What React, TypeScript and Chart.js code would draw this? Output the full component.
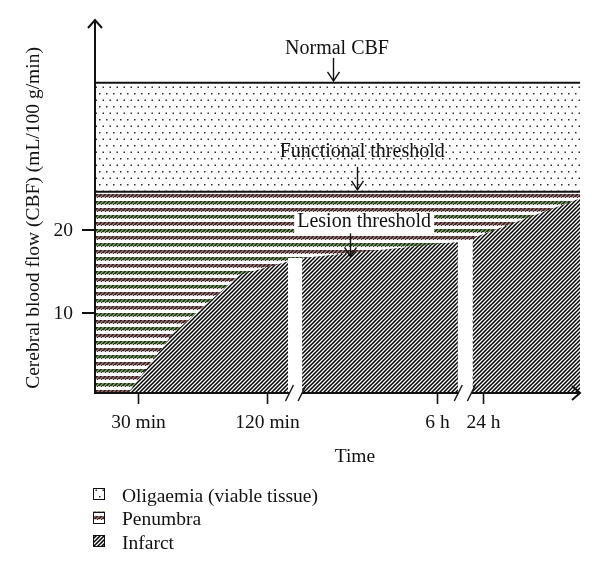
import React, { useEffect, useRef } from 'react';
import { Chart, registerables } from 'chart.js';

Chart.register(...registerables);

// ---- scale extents (time axis is a broken, schematic axis in arbitrary units) ----
const X_MIN = 0;
const X_MAX = 100;
const Y_MIN = 0.5;
const Y_MAX = 45;

// ---- ticks ----
const Y_TICKS = [10, 20];
const X_TICK_LABELS = ['30 min', '120 min', '6 h', '24 h'];
const X_TICK_VALUES = [8.9, 35.5, 70.5, 80.0];
const AXIS_BREAKS = [
  [40.1, 42.7],
  [74.9, 77.6],
];

// ---- thresholds ----
const NORMAL_CBF = 37.5;
const FUNCTIONAL_THRESHOLD = 24.5;
const LESION_THRESHOLD = 16.8;
const SPAN_T = [0, 100];

// ---- infarct growth segments ----
const INFARCT_1_T = [6.2, 16.1, 29.9, 39.8];
const INFARCT_1_V = [0, 7.6, 14.6, 16.2];
const INFARCT_2_T = [42.7, 74.8];
const INFARCT_2_V = [16.6, 18.5];
const INFARCT_3_T = [77.9, 100];
const INFARCT_3_V = [19.0, 23.7];

// ---- white gaps at the axis breaks ----
const GAP_1_T = [39.8, 42.7];
const GAP_1_V = [16.6, 16.6];
const GAP_2_T = [74.8, 77.9];
const GAP_2_V = [18.6, 18.6];

// ---- texts ----
const LEGEND_LABELS = ['Oligaemia (viable tissue)', 'Penumbra', 'Infarct'];
const Y_TITLE = 'Cerebral blood flow (CBF) (mL/100 g/min)';
const X_TITLE = 'Time';
const ANNOTATION_LABELS = ['Normal CBF', 'Functional threshold', 'Lesion threshold'];
const ANNOTATION_ARROW_T = [49.1, 54.0, 52.6];
const ANNOTATION_TEXT_T = [49.9, 55.1, 55.5];
const ANNOTATION_TARGET_V = [NORMAL_CBF, FUNCTIONAL_THRESHOLD, LESION_THRESHOLD];

const FONT = (s: number) => `${s}px "Liberation Serif", "Times New Roman", serif`;
const INK = '#111111';

function makeTile(w: number, h: number, draw: (g: CanvasRenderingContext2D) => void) {
  const c = document.createElement('canvas');
  c.width = w;
  c.height = h;
  const g = c.getContext('2d')!;
  draw(g);
  return c;
}

function makePatterns(ctx: CanvasRenderingContext2D) {
  const dotsTile = makeTile(7, 13, (g) => {
    g.fillStyle = '#ffffff';
    g.fillRect(0, 0, 7, 13);
    g.fillStyle = '#2e2e2e';
    g.fillRect(1, 2, 1.5, 1.5);
    g.fillRect(4.5, 8.5, 1.5, 1.5);
  });
  const stripeTile = makeTile(8, 14, (g) => {
    g.fillStyle = '#ffffff';
    g.fillRect(0, 0, 8, 14);
    const bands = [
      { start: 12, dark: '#3a2626', mid: '#8e6a6a' },
      { start: 5, dark: '#26351f', mid: '#6a8e55' },
    ];
    for (const b of bands) {
      for (let r = 0; r < 4; r++) {
        const row = (b.start + r) % 14;
        for (let x = 0; x < 8; x++) {
          const m = (x + r) % 4;
          const dark = r === 3 ? m === 0 : m === 0 || m === 1;
          g.fillStyle = dark ? b.dark : r === 3 ? '#d8d0d0' : b.mid;
          g.fillRect(x, row, 1, 1);
        }
      }
    }
  });
  const hatchTile = makeTile(4, 4, (g) => {
    g.fillStyle = '#ffffff';
    g.fillRect(0, 0, 4, 4);
    g.strokeStyle = '#000000';
    g.lineWidth = 1.5;
    g.beginPath();
    g.moveTo(0, 4);
    g.lineTo(4, 0);
    g.moveTo(-1, 1);
    g.lineTo(1, -1);
    g.moveTo(3, 5);
    g.lineTo(5, 3);
    g.stroke();
  });
  return {
    dots: ctx.createPattern(dotsTile, 'repeat')!,
    stripes: ctx.createPattern(stripeTile, 'repeat')!,
    hatch: ctx.createPattern(hatchTile, 'repeat')!,
  };
}

const pts = (ts: number[], vs: number[]) => ts.map((t, i) => ({ x: t, y: vs[i] }));

function line(ctx: CanvasRenderingContext2D, x1: number, y1: number, x2: number, y2: number) {
  ctx.beginPath();
  ctx.moveTo(x1, y1);
  ctx.lineTo(x2, y2);
  ctx.stroke();
}

function makeOverlay(patterns: ReturnType<typeof makePatterns>) {
  return {
    id: 'overlay',
    afterDraw(chart: any) {
      const { ctx, chartArea: a } = chart;
      const xs = chart.scales.x;
      const ys = chart.scales.y;
      ctx.save();
      ctx.strokeStyle = INK;
      ctx.fillStyle = INK;
      ctx.lineCap = 'butt';

      // ---- annotations ----
      const gaps = [4, 10, 6];
      ANNOTATION_LABELS.forEach((label, i) => {
        const ax = Math.round(xs.getPixelForValue(ANNOTATION_ARROW_T[i])) + 0.5;
        const tip = ys.getPixelForValue(ANNOTATION_TARGET_V[i]) - (i === 2 ? 0 : 2);
        const top = tip - 23;
        const tx = xs.getPixelForValue(ANNOTATION_TEXT_T[i]);
        const base = top - gaps[i];
        ctx.font = FONT(20);
        if (i === 2) {
          const w = ctx.measureText(label).width;
          ctx.fillStyle = '#ffffff';
          ctx.fillRect(tx - w / 2 - 3, base - 15, w + 6, 22);
          ctx.fillStyle = INK;
        }
        ctx.textAlign = 'center';
        ctx.textBaseline = 'alphabetic';
        ctx.fillText(label, tx, base);
        ctx.lineWidth = 1.4;
        line(ctx, ax, top, ax, tip);
        ctx.beginPath();
        ctx.moveTo(ax - 6, tip - 9);
        ctx.lineTo(ax, tip);
        ctx.lineTo(ax + 6, tip - 9);
        ctx.stroke();
      });

      // ---- y axis ----
      ctx.lineWidth = 2;
      line(ctx, a.left, a.bottom + 1, a.left, a.top);
      ctx.beginPath();
      ctx.moveTo(a.left - 7, a.top + 8);
      ctx.lineTo(a.left, a.top);
      ctx.lineTo(a.left + 7, a.top + 8);
      ctx.stroke();
      ctx.font = FONT(19.5);
      ctx.textAlign = 'right';
      ctx.textBaseline = 'middle';
      Y_TICKS.forEach((v) => {
        const py = Math.round(ys.getPixelForValue(v));
        line(ctx, a.left - 13, py, a.left, py);
        ctx.fillText(String(v), a.left - 22, py + 1);
      });
      ctx.save();
      ctx.translate(34, 218);
      ctx.rotate(-Math.PI / 2);
      ctx.textAlign = 'center';
      ctx.textBaseline = 'middle';
      ctx.fillText(Y_TITLE, 0, 0);
      ctx.restore();

      // ---- x axis with breaks ----
      const y0 = a.bottom;
      const bx = AXIS_BREAKS.map((b) => b.map((t) => xs.getPixelForValue(t)));
      ctx.lineWidth = 2;
      line(ctx, a.left - 1, y0, bx[0][0], y0);
      line(ctx, bx[0][1], y0, bx[1][0], y0);
      line(ctx, bx[1][1], y0, a.right, y0);
      ctx.beginPath();
      ctx.moveTo(a.right - 8, y0 - 7);
      ctx.lineTo(a.right, y0);
      ctx.lineTo(a.right - 8, y0 + 7);
      ctx.stroke();
      ctx.lineWidth = 1.4;
      bx.flat().forEach((sx) => line(ctx, sx - 4, y0 + 8, sx + 4, y0 - 8));
      ctx.lineWidth = 1.6;
      ctx.textAlign = 'center';
      ctx.textBaseline = 'alphabetic';
      X_TICK_VALUES.forEach((t, i) => {
        const px = Math.round(xs.getPixelForValue(t)) + 0.5;
        line(ctx, px, y0, px, y0 + 11);
        ctx.fillText(X_TICK_LABELS[i], px, y0 + 35);
      });
      ctx.fillText(X_TITLE, a.left + (a.right - a.left) * 0.536, y0 + 69);

      // ---- legend ----
      const fills = [patterns.dots, patterns.stripes, patterns.hatch];
      LEGEND_LABELS.forEach((label, i) => {
        const top = 488 + i * 23.5;
        const sx = 93;
        ctx.fillStyle = fills[i];
        ctx.fillRect(sx, top, 12, 12);
        ctx.lineWidth = 1;
        ctx.strokeStyle = INK;
        ctx.strokeRect(sx + 0.5, Math.round(top) + 0.5, 11, 11);
        ctx.fillStyle = INK;
        ctx.textAlign = 'left';
        ctx.fillText(label, 122, top + 13.5);
      });

      ctx.restore();
    },
  };
}

export default function App() {
  const ref = useRef<HTMLCanvasElement>(null);

  useEffect(() => {
    document.body.style.margin = '0';
    const canvas = ref.current!;
    const ctx = canvas.getContext('2d')!;
    const patterns = makePatterns(ctx);
    const clear = 'rgba(0,0,0,0)';

    const chart = new Chart(canvas, {
      type: 'line',
      data: {
        datasets: [
          {
            label: LEGEND_LABELS[0],
            data: pts(SPAN_T, [NORMAL_CBF, NORMAL_CBF]),
            fill: { value: FUNCTIONAL_THRESHOLD },
            backgroundColor: patterns.dots,
            borderColor: INK,
            borderWidth: 2,
            order: 5,
          },
          {
            label: LEGEND_LABELS[1],
            data: pts(SPAN_T, [FUNCTIONAL_THRESHOLD, FUNCTIONAL_THRESHOLD]),
            fill: 'origin',
            backgroundColor: patterns.stripes,
            borderColor: INK,
            borderWidth: 2,
            order: 4,
          },
          {
            label: 'gap 1',
            data: pts(GAP_1_T, GAP_1_V),
            fill: 'origin',
            backgroundColor: '#ffffff',
            borderColor: clear,
            borderWidth: 0,
            order: 3,
          },
          {
            label: 'gap 2',
            data: pts(GAP_2_T, GAP_2_V),
            fill: 'origin',
            backgroundColor: '#ffffff',
            borderColor: clear,
            borderWidth: 0,
            order: 3,
          },
          {
            label: LEGEND_LABELS[2] + ' 1',
            data: pts(INFARCT_1_T, INFARCT_1_V),
            fill: 'origin',
            backgroundColor: patterns.hatch,
            borderColor: clear,
            borderWidth: 0,
            order: 2,
          },
          {
            label: LEGEND_LABELS[2] + ' 2',
            data: pts(INFARCT_2_T, INFARCT_2_V),
            fill: 'origin',
            backgroundColor: patterns.hatch,
            borderColor: clear,
            borderWidth: 0,
            order: 2,
          },
          {
            label: LEGEND_LABELS[2] + ' 3',
            data: pts(INFARCT_3_T, INFARCT_3_V),
            fill: 'origin',
            backgroundColor: patterns.hatch,
            borderColor: clear,
            borderWidth: 0,
            order: 2,
          },
        ],
      },
      options: {
        responsive: false,
        animation: false,
        devicePixelRatio: 1,
        layout: { padding: { left: 95, right: 20, top: 20, bottom: 184 } },
        elements: { point: { radius: 0, hoverRadius: 0 }, line: { tension: 0 } },
        plugins: { legend: { display: false }, tooltip: { enabled: false }, filler: { propagate: false } },
        events: [],
        scales: {
          x: { type: 'linear', min: X_MIN, max: X_MAX, display: false },
          y: { type: 'linear', min: Y_MIN, max: Y_MAX, display: false },
        },
      },
      plugins: [makeOverlay(patterns)],
    });
    return () => chart.destroy();
  }, []);

  return (
    <div style={{ width: 600, height: 577 }}>
      <canvas ref={ref} width={600} height={577} style={{ display: 'block', width: 600, height: 577 }} />
    </div>
  );
}
